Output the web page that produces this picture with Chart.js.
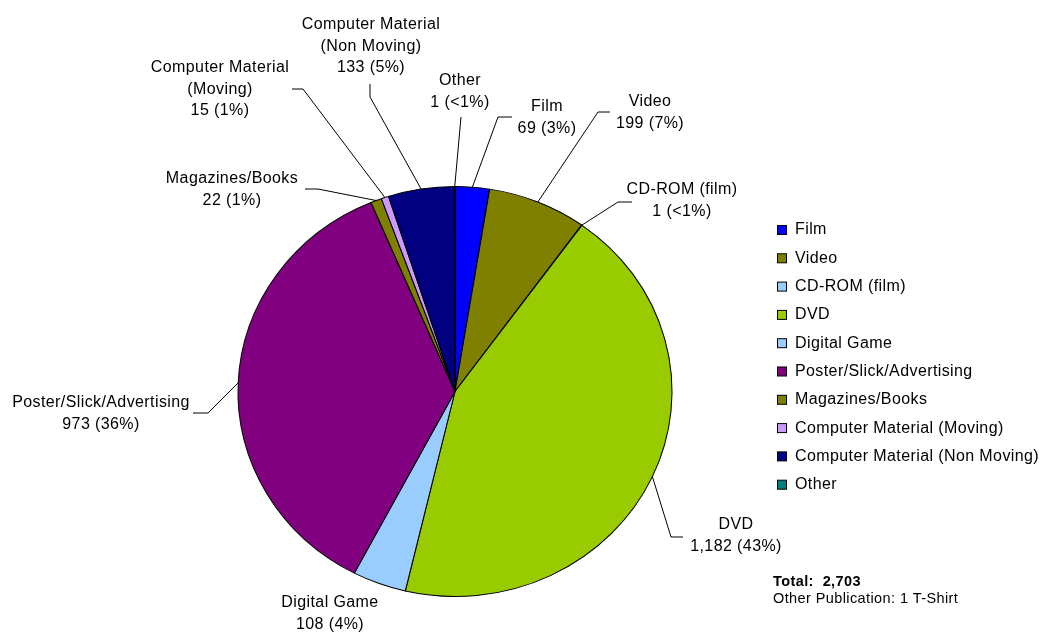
<!DOCTYPE html>
<html>
<head>
<meta charset="utf-8">
<script src="https://cdn.jsdelivr.net/npm/chart.js@4.4.1/dist/chart.umd.min.js"></script>
<style>
  html, body { margin:0; padding:0; background:#fff; }
  #wrap { position:relative; width:1039px; height:632px; }
</style>
</head>
<body>
<div id="wrap"><canvas id="pie"></canvas></div>
<script>
// pie of publication types, clockwise from 12 o'clock
const categories = ['Film', 'Video', 'CD-ROM (film)', 'DVD', 'Digital Game',
  'Poster/Slick/Advertising', 'Magazines/Books', 'Computer Material (Moving)',
  'Computer Material (Non Moving)', 'Other'];
const counts = [69, 199, 1, 1182, 108, 973, 22, 15, 133, 1];
const pctText = ['3%', '7%', '<1%', '43%', '4%', '36%', '1%', '1%', '5%', '<1%'];
const labelLines = [
  ['Film'], ['Video'], ['CD-ROM (film)'], ['DVD'], ['Digital Game'],
  ['Poster/Slick/Advertising'], ['Magazines/Books'], ['Computer Material', '(Moving)'],
  ['Computer Material', '(Non Moving)'], ['Other']
];
const colors = ['#0000FF', '#808000', '#99CCFF', '#99CC00', '#99CCFF',
  '#800080', '#808000', '#CC99FF', '#000080', '#008080'];
const totalText = 'Total:  2,703';
const noteText = 'Other Publication: 1 T-Shirt';

// label placement: text centre x, first line y, leader points (text end -> elbow)
const labelPos = [
  { x: 547, y: 107, lead: [[512,117],[498,117]] },
  { x: 650, y: 102, lead: [[610,112],[598,112]] },
  { x: 682, y: 190, lead: [[632,202],[618,202]] },
  { x: 736, y: 525, lead: [[683,537],[671,537]] },
  { x: 330, y: 603, lead: null },
  { x: 101, y: 403, lead: [[193,413],[208,413]] },
  { x: 232, y: 179, lead: [[305,189],[318,189]] },
  { x: 220, y: 68,  lead: [[292,89],[303,89]] },
  { x: 371, y: 25,  lead: [[370,84],[370,97]] },
  { x: 460, y: 81,  lead: [[461,117]] },
];

const LINE_H = 21.3;
const STRETCH = 217 / 205;  // excel pie is a bit wider than tall
const FONT = '"Liberation Sans", Arial, sans-serif';

function fmt(n){ return n.toLocaleString('en-US'); }

const ellipse = {
  id: 'ellipse',
  beforeDatasetsDraw(chart){
    const arc = chart.getDatasetMeta(0).data[0];
    const ctx = chart.ctx;
    ctx.save();
    ctx.translate(arc.x, 0);
    ctx.scale(STRETCH, 1);
    ctx.translate(-arc.x, 0);
  },
  afterDatasetsDraw(chart){ chart.ctx.restore(); }
};

const labels = {
  id: 'labels',
  afterDraw(chart){
    const ctx = chart.ctx;
    const arcs = chart.getDatasetMeta(0).data;
    ctx.save();
    ctx.letterSpacing = '0.4px';
    // leader lines + slice labels
    arcs.forEach((a, i) => {
      const p = labelPos[i];
      const mid = (a.startAngle + a.endAngle) / 2;
      const ex = a.x + a.outerRadius * STRETCH * Math.cos(mid);
      const ey = a.y + a.outerRadius * Math.sin(mid);
      if (p.lead){
        ctx.strokeStyle = '#000';
        ctx.lineWidth = 1;
        ctx.beginPath();
        ctx.moveTo(p.lead[0][0], p.lead[0][1]);
        for (let k = 1; k < p.lead.length; k++) ctx.lineTo(p.lead[k][0], p.lead[k][1]);
        ctx.lineTo(ex, ey);
        ctx.stroke();
      }
      const lines = labelLines[i].concat([fmt(counts[i]) + ' (' + pctText[i] + ')']);
      ctx.fillStyle = '#000';
      ctx.font = '16px ' + FONT;
      ctx.textAlign = 'center';
      ctx.textBaseline = 'middle';
      lines.forEach((t, j) => ctx.fillText(t, p.x, p.y + j * LINE_H));
    });

    // legend
    ctx.textAlign = 'left';
    categories.forEach((c, i) => {
      const y = 230 + i * 28.3;
      ctx.fillStyle = colors[i];
      ctx.fillRect(777.5, y - 4.5, 9, 9);
      ctx.strokeStyle = '#000';
      ctx.lineWidth = 1;
      ctx.strokeRect(777.5, y - 4.5, 9, 9);
      ctx.fillStyle = '#000';
      ctx.fillText(c, 795, y);
    });

    // totals note
    ctx.font = 'bold 14.5px ' + FONT;
    ctx.fillText(totalText, 773, 582);
    ctx.font = '14.5px ' + FONT;
    ctx.fillText(noteText, 773, 599);
    ctx.restore();
  }
};

new Chart(document.getElementById('pie'), {
  type: 'pie',
  data: {
    labels: categories,
    datasets: [{
      data: counts,
      backgroundColor: colors,
      borderColor: '#000',
      borderWidth: 1,
      radius: 205
    }]
  },
  options: {
    responsive: true,
    maintainAspectRatio: false,
    animation: false,
    layout: { padding: { left: 0, right: 129, top: 151, bottom: 0 } },
    plugins: { legend: { display: false }, tooltip: { enabled: false } }
  },
  plugins: [ellipse, labels]
});
</script>
</body>
</html>
